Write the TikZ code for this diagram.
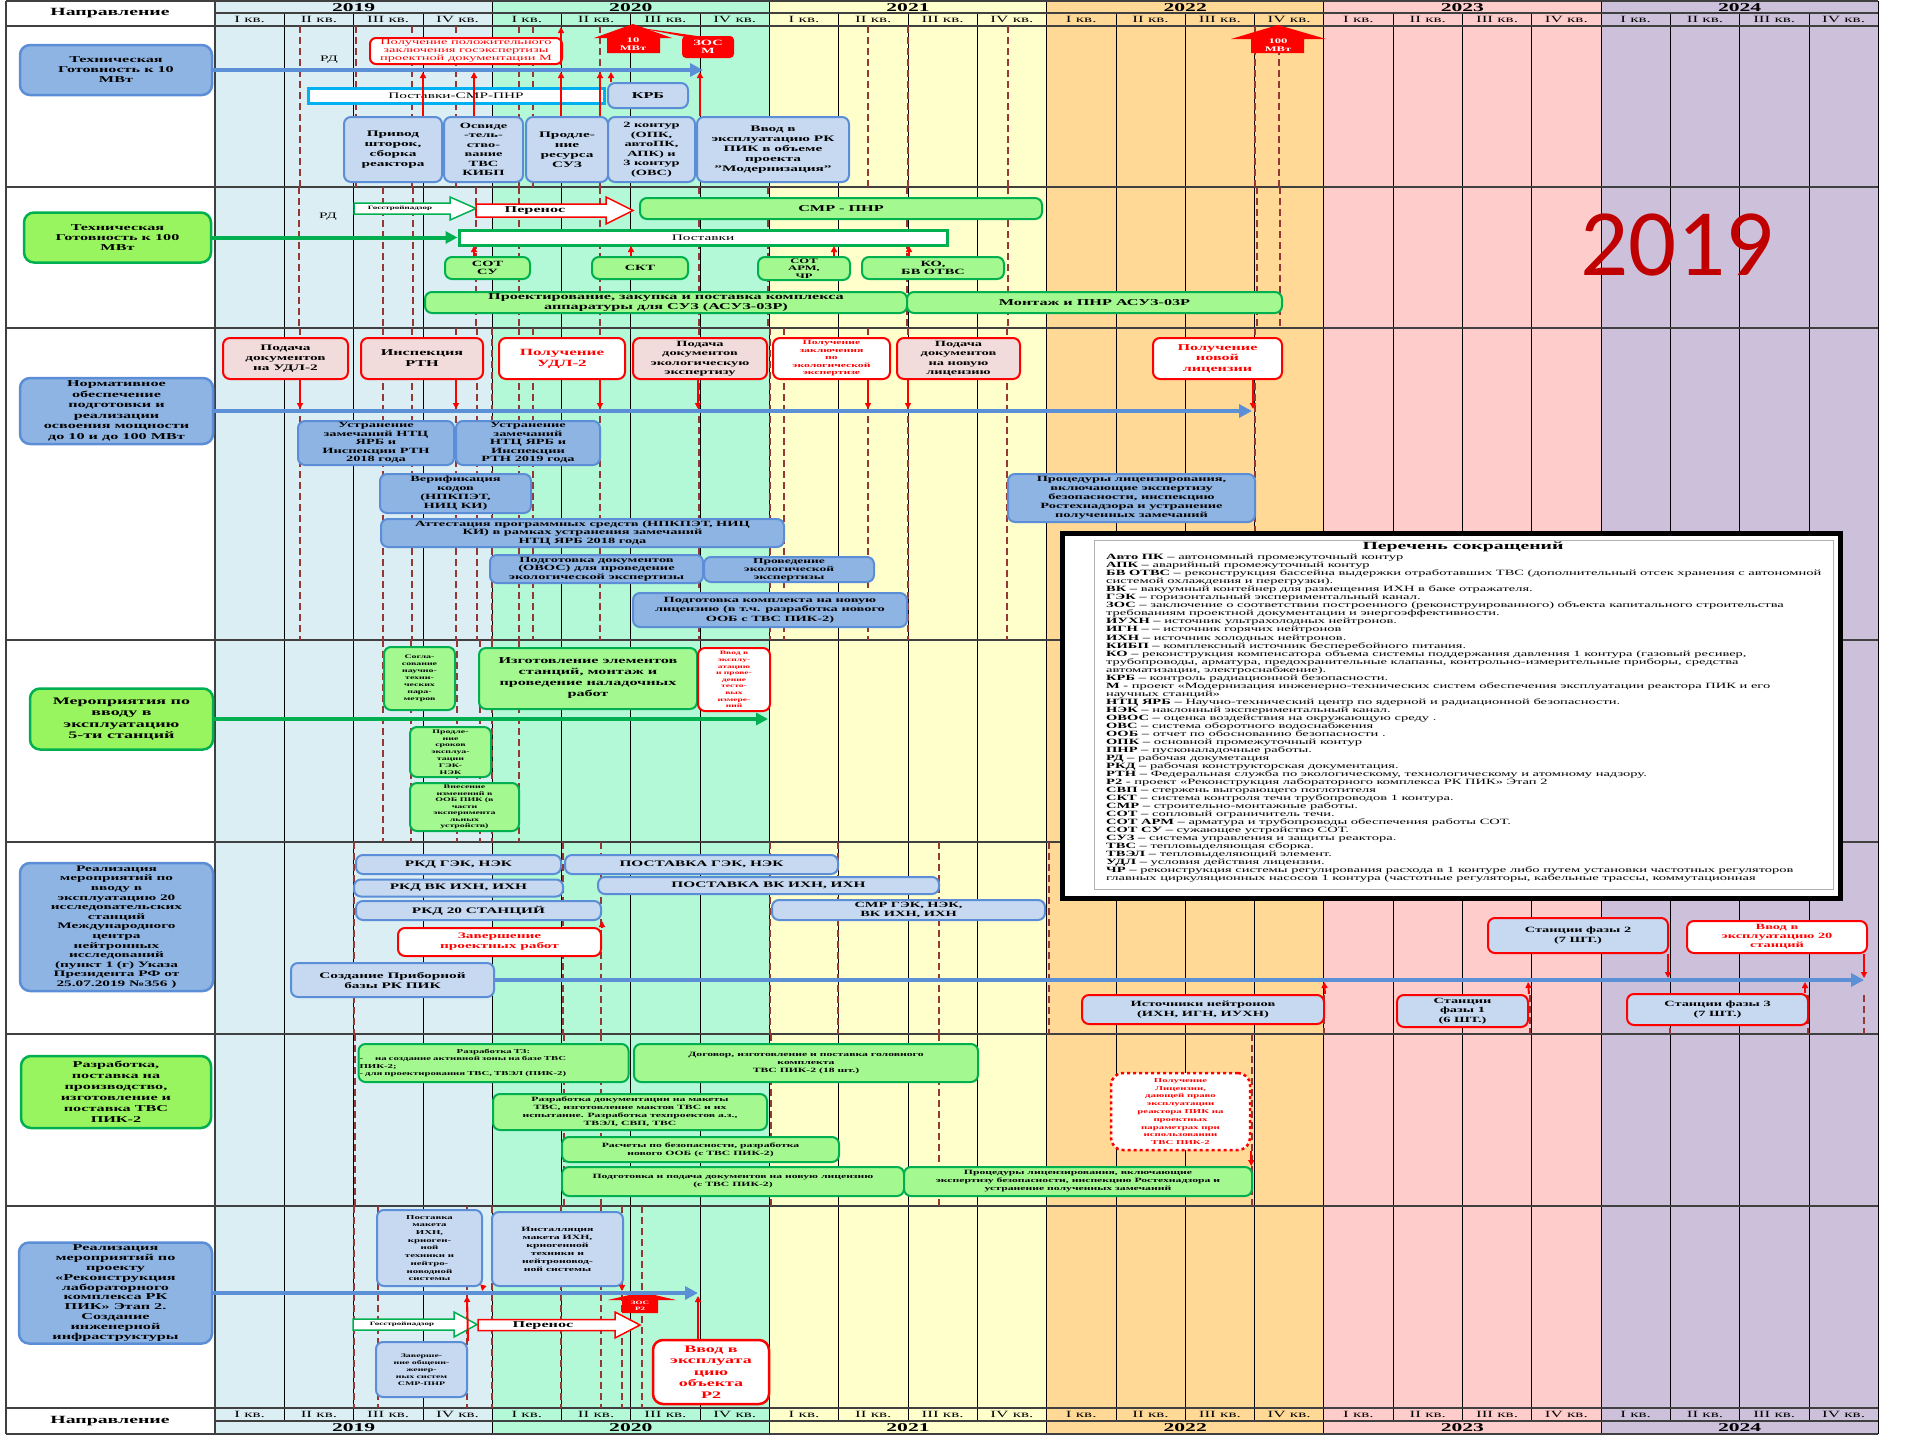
\documentclass[tikz,border=0pt]{standalone}
\usepackage{fontspec}
\setmainfont{Liberation Serif}[FakeStretch=1.8]
\newfontfamily\bigyrfont{Carlito}
\usetikzlibrary{arrows.meta}

\definecolor{yrA}{HTML}{DBEEF4}
\definecolor{yrB}{HTML}{B3F8D7}
\definecolor{yrC}{HTML}{FFFFCC}
\definecolor{yrD}{HTML}{FFD995}
\definecolor{yrE}{HTML}{FFCCCC}
\definecolor{yrF}{HTML}{CCC0DA}
\definecolor{dashred}{HTML}{953735}
\definecolor{lblblue}{HTML}{8EB4E3}
\definecolor{lblbord}{HTML}{5B8ED6}
\definecolor{boxblue}{HTML}{C6D9F1}
\definecolor{arrblue}{HTML}{5B8FD6}
\definecolor{lblgreen}{HTML}{99F55F}
\definecolor{grnbord}{HTML}{00B050}
\definecolor{boxgreen}{HTML}{A3F98F}
\definecolor{pinkbox}{HTML}{F2DCDB}
\definecolor{cyanb}{HTML}{00B0F0}
\definecolor{bigred}{HTML}{C00000}

\newcommand\fsb[2]{\bfseries\fontsize{#1}{#2}\selectfont}
\newcommand\fsr[2]{\fontsize{#1}{#2}\selectfont}

\tikzset{
	lblB/.style={draw=lblbord, line width=2.5, fill=lblblue, rounded corners=10, align=center, inner sep=1, font=\fsb{9}{10}},
	lblG/.style={lblB, draw=grnbord, fill=lblgreen},
	boxB/.style={draw=lblbord, line width=2, fill=boxblue, rounded corners=7, align=center, inner sep=1, font=\fsb{8.5}{10}},
	boxM/.style={boxB, fill=lblblue},
	boxG/.style={boxB, draw=grnbord, fill=boxgreen},
	boxP/.style={boxB, draw=red, fill=pinkbox},
	boxR/.style={boxB, draw=red, fill=white, text=red},
	boxBR/.style={boxB, draw=red},
	zosbox/.style={fill=red, rounded corners=4, align=center, inner sep=0, text=white, font=\fsb{8}{8.5}},
	wtxt/.style={text=white, align=center, inner sep=0, font=\fsb{7}{7.5}},
	redar/.style={red, line width=2, -{Triangle[length=6pt,width=6pt]}},
	barB/.style={draw=arrblue, line width=4, -{Triangle[length=13pt,width=13pt]}},
	barG/.style={draw=grnbord, line width=4, -{Triangle[length=12pt,width=12pt]}},
	dashln/.style={dashred, line width=2, dash pattern=on 7pt off 4pt},
	qline/.style={black, line width=0.8},
	rowln/.style={black!75, line width=1.5},
	qtxt/.style={inner sep=0, font=\fsr{9.5}{9.5}},
	yrtxt/.style={inner sep=0, font=\fsb{12}{12}},
	garr/.style={draw=grnbord, line width=1.5, fill=white},
	rarr/.style={draw=red, line width=1.5, fill=white},
}

\begin{document}
\begin{tikzpicture}[x=1pt, y=-1pt]
	\useasboundingbox (0,0) rectangle (1920,1440);

	% year columns
	\foreach \c [count=\j from 0] in {yrA,yrB,yrC,yrD,yrE,yrF}
		\fill[\c] ({215+277.2*\j},1) rectangle ({492.2+277.2*\j},1434);

	% grid
	\foreach \i in {0,...,24}
		\draw[qline] ({215+69.3*\i},13) -- ({215+69.3*\i},1421);
	\foreach \i in {0,...,6}
		\draw[qline] ({215+277.2*\i},1) -- ({215+277.2*\i},1434);
	\foreach \y in {1,26,187,328,640,842,1034,1206,1408,1434}
		\draw[rowln] (6,\y) -- (1878,\y);
	\draw[rowln] (215,13) -- (1878,13);
	\draw[rowln] (215,1421) -- (1878,1421);
	\draw[rowln] (6,1) -- (6,1434);
	\draw[rowln] (215,1) -- (215,1434);

	% headers
	\node[font=\fsb{11}{11}] (napr-t) at (110,13.5) {Направление};
	\node[font=\fsb{11}{11}] (napr-b) at (110,1421) {Направление};
	\foreach \yr [count=\j from 0] in {2019,...,2024} {
		\node[yrtxt] (yt-\yr) at ({353.6+277.2*\j},7.5) {\yr};
		\node[yrtxt] (yb-\yr) at ({353.6+277.2*\j},1428) {\yr};
	}
	\foreach \j in {0,...,5}
		\foreach \q [count=\k from 0] in {I,II,III,IV} {
			\node[qtxt] (qt-\j-\k) at ({249.65+277.2*\j+69.3*\k},19.5) {\q\ кв.};
			\node[qtxt] (qb-\j-\k) at ({249.65+277.2*\j+69.3*\k},1414.5) {\q\ кв.};
		}

	% dashed milestones
	\foreach \x in {300,356,412,456,519,533,600,868,908,1008,1255,1279}
		\draw[dashln] (\x,26) -- (\x,187);
	\foreach \x in {299,383,413,476,519,600,699,768,907,1008,1257,1280}
		\draw[dashln] (\x,187) -- (\x,328);
	\foreach \x in {300,383,412,456,477,492,519,533,600,699,770,784,868,908,1007,1255}
		\draw[dashln] (\x,328) -- (\x,640);
	\foreach \x in {383,411,457,480,492,519}
		\draw[dashln] (\x,640) -- (\x,842);
	\foreach \x in {354,563,601,770,838,939,1049}
		\draw[dashln] (\x,842) -- (\x,1034);
	\foreach \x in {1324,1530,1670,1808,1864}
		\draw[dashln] (\x,995) -- (\x,1034);
	\foreach \x in {355,564,601,771,939,1252}
		\draw[dashln] (\x,1034) -- (\x,1206);
	\foreach \x in {354,378,467,492,561,601,622,642}
		\draw[dashln] (\x,1206) -- (\x,1408);

	\node[text=bigred, font=\bigyrfont\fontsize{95}{95}\selectfont] (bigyr) at (1677,245) {2019};

	% row 1: 10 MW
	\node[lblB, minimum width=192, minimum height=50] (lbl10) at (116,70) {Техническая\\Готовность к 10\\МВт};
	\node[font=\fsr{8.5}{8.5}] (rd1) at (329,60) {РД};
	\node[boxR, font=\fsr{8}{8}, minimum width=192, minimum height=26, rounded corners=6] (gosexp) at (466,51) {Получение положительного\\заключения госэкспертизы\\проектной документации М};
	\node[draw=cyanb, line width=3, fill=white, minimum width=296, minimum height=15, inner sep=0, font=\fsr{8.5}{8.5}] (postsmr) at (456,95.5) {Поставки-СМР-ПНР};
	\node[boxB, font=\fsb{9}{10}, minimum width=80, minimum height=25] (krb) at (648,95.5) {КРБ};
	\node[boxB, minimum width=98, minimum height=65] (privod) at (393,149.5) {Привод\\шторок,\\сборка\\реактора};
	\node[boxB, font=\fsb{8}{9.5}, minimum width=79, minimum height=65] (osvid) at (483.5,149.5) {Освиде\\-тель-\\ство-\\вание\\ТВС\\КИБП};
	\node[boxB, minimum width=82, minimum height=65] (prodl) at (567,149.5) {Продле-\\ние\\ресурса\\СУЗ};
	\node[boxB, font=\fsb{8}{9.5}, minimum width=87, minimum height=65] (kontur) at (651.5,149.5) {2 контур\\(ОПК,\\автоПК,\\АПК) и\\3 контур\\(ОВС)};
	\node[boxB, minimum width=152, minimum height=65] (vvodM) at (773,149.5) {Ввод в\\эксплуатацию РК\\ПИК в объеме\\проекта\\"Модернизация"};
	\fill[red] (594,38) -- (633,24) -- (672,38) -- (660,38) -- (660,53) -- (607,53) -- (607,38) -- cycle;
	\node[wtxt] (mw10) at (633,44) {10\\МВт};
	\fill[red] (634,27) -- (686,37) -- (704,37) -- cycle;
	\node[zosbox, minimum width=52, minimum height=22] (zosM) at (708,47) {ЗОС\\М};
	\fill[red] (1231,39) -- (1278,25) -- (1326,39) -- (1304,39) -- (1304,53) -- (1251,53) -- (1251,39) -- cycle;
	\node[wtxt] (mw100) at (1278,45) {100\\МВт};

	\coordinate (e1) at (703,70);
	\draw[barB] (lbl10.east) -- (e1);
	\coordinate (r1a) at (423,72);
	\coordinate (r1b) at (474,72);
	\coordinate (r1c) at (561,72);
	\coordinate (r1d) at (600,72);
	\coordinate (r1e) at (611,72);
	\coordinate (r1f) at (700,72);
	\coordinate (r1g) at (561,27);
	\draw[redar] (privod.north -| r1a) -- (r1a);
	\draw[redar] (osvid.north -| r1b) -- (r1b);
	\draw[redar] (prodl.north -| r1c) -- (r1c);
	\draw[redar] (kontur.north -| r1d) -- (r1d);
	\draw[redar] (krb.north -| r1e) -- (r1e);
	\draw[redar] (vvodM.north -| r1f) -- (r1f);
	\draw[redar] (gosexp.south east -| r1g) -- (r1g);

	% row 2: 100 MW
	\node[lblG, minimum width=187, minimum height=50] (lbl100) at (117.5,237.5) {Техническая\\Готовность к 100\\МВт};
	\node[font=\fsr{8.5}{8.5}] (rd2) at (328,217) {РД};
	\draw[garr] (354,203) -- (450,203) -- (450,197) -- (476,208.5) -- (450,220) -- (450,214) -- (354,214) -- cycle;
	\node[inner sep=0, font=\fsb{5}{5}] (gsn1) at (400,208.5) {Госстройнадзор};
	\draw[rarr] (476,204) -- (606,204) -- (606,197) -- (633,210.5) -- (606,224) -- (606,217) -- (476,217) -- cycle;
	\node[inner sep=0, font=\fsb{9}{9}] (per1) at (535,210.5) {Перенос};
	\node[boxG, font=\fsb{9}{10}, minimum width=402, minimum height=21] (smrpnr) at (841,208.5) {СМР - ПНР};
	\node[draw=grnbord, line width=3, fill=white, minimum width=488, minimum height=15, inner sep=0, font=\fsr{8.5}{8.5}] (postav) at (703,237.5) {Поставки};
	\node[boxG, font=\fsb{8}{8.5}, minimum width=85, minimum height=22] (sotsu) at (487.5,268) {СОТ\\СУ};
	\node[boxG, font=\fsb{8}{8.5}, minimum width=96, minimum height=22] (skt) at (640,268) {СКТ};
	\node[boxG, font=\fsb{7}{7.3}, minimum width=92, minimum height=23] (sotarm) at (804,268.5) {СОТ\\АРМ,\\ЧР};
	\node[boxG, font=\fsb{8}{8.5}, minimum width=142, minimum height=22] (kobv) at (933,268) {КО,\\БВ ОТВС};
	\node[boxG, font=\fsb{9}{9.5}, minimum width=482, minimum height=21] (proekt) at (666,302.5) {Проектирование, закупка и поставка комплекса\\аппаратуры для СУЗ (АСУЗ-03Р)};
	\node[boxG, font=\fsb{9}{9.5}, minimum width=375, minimum height=21] (montazh) at (1094.5,302.5) {Монтаж и ПНР  АСУЗ-03Р};
	\draw[barG] (lbl100.east) -- (postav.west);
	\coordinate (r2a) at (474,246);
	\coordinate (r2b) at (631,246);
	\coordinate (r2c) at (834,246);
	\coordinate (r2d) at (909,246);
	\draw[redar] (sotsu.north -| r2a) -- (r2a);
	\draw[redar] (skt.north -| r2b) -- (r2b);
	\draw[redar] (sotarm.north -| r2c) -- (r2c);
	\draw[redar] (kobv.north -| r2d) -- (r2d);

	% row 3: licensing
	\node[lblB, font=\fsb{9}{10.5}, minimum width=193, minimum height=66] (lblnorm) at (116.5,411) {Нормативное\\обеспечение\\подготовки и\\реализации\\освоения мощности\\до 10 и до 100 МВт};
	\node[boxP, minimum width=125, minimum height=41] (pudl) at (285.5,358.5) {Подача\\документов\\на УДЛ-2};
	\node[boxP, font=\fsb{9}{11}, minimum width=122, minimum height=41] (insp) at (422,358.5) {Инспекция\\РТН};
	\node[boxR, font=\fsb{9.5}{11}, minimum width=126, minimum height=41] (pudl2) at (562,358.5) {Получение\\УДЛ-2};
	\node[boxP, font=\fsb{8}{9.5}, minimum width=134, minimum height=41] (peco) at (700,358.5) {Подача\\документов\\экологическую\\экспертизу};
	\node[boxR, font=\fsb{6.5}{7.5}, minimum width=117, minimum height=41] (zeco) at (831.5,358.5) {Получение\\заключения\\по\\экологической\\экспертизе};
	\node[boxP, font=\fsb{8}{9.5}, minimum width=123, minimum height=41] (plic) at (958.5,358.5) {Подача\\документов\\на новую\\лицензию};
	\node[boxR, font=\fsb{9}{10.5}, minimum width=129, minimum height=41] (newlic) at (1217.5,358.5) {Получение\\новой\\лицензии};
	\node[boxM, font=\fsb{8}{8.5}, minimum width=156, minimum height=44] (ust18) at (376,443) {Устранение\\замечаний  НТЦ\\ЯРБ и\\Инспекции  РТН\\2018 года};
	\node[boxM, font=\fsb{8}{8.5}, minimum width=144, minimum height=44] (ust19) at (528,443) {Устранение\\замечаний\\НТЦ ЯРБ и\\Инспекции\\РТН 2019 года};
	\node[boxM, font=\fsb{8}{9}, minimum width=151, minimum height=39] (verif) at (455.5,493.5) {Верификация\\кодов\\(НПКПЭТ,\\НИЦ КИ)};
	\node[boxM, font=\fsb{8}{8.5}, minimum width=403, minimum height=28] (attest) at (582.5,533) {Аттестация программных  средств (НПКПЭТ, НИЦ\\КИ) в рамках устранения замечаний\\НТЦ ЯРБ 2018 года};
	\node[boxM, font=\fsb{8}{8.5}, minimum width=213, minimum height=28] (ovos) at (596.5,569) {Подготовка документов\\(ОВОС) для проведение\\экологической экспертизы};
	\node[boxM, font=\fsb{7.5}{8}, minimum width=170, minimum height=25] (proveco) at (789,569.5) {Проведение\\экологической\\экспертизы};
	\node[boxM, font=\fsb{8}{9.5}, minimum width=274, minimum height=34] (komplekt) at (770,610) {Подготовка комплекта на новую\\лицензию (в т.ч. разработка нового\\ООБ с ТВС ПИК-2)};
	\node[boxM, font=\fsb{8}{9}, minimum width=247, minimum height=48] (proclic) at (1131.5,498) {Процедуры лицензирования,\\включающие  экспертизу\\безопасности, инспекцию\\Ростехнадзора и устранение\\полученных  замечаний};
	\coordinate (e3) at (1252,411);
	\draw[barB] (lblnorm.east) -- (e3);
	\coordinate (r3a) at (300,409);
	\coordinate (r3b) at (456,409);
	\coordinate (r3c) at (600,409);
	\coordinate (r3d) at (698,409);
	\coordinate (r3e) at (868,409);
	\coordinate (r3f) at (908,409);
	\coordinate (r3g) at (1253,409);
	\draw[redar] (pudl.south -| r3a) -- (r3a);
	\draw[redar] (insp.south -| r3b) -- (r3b);
	\draw[redar] (pudl2.south -| r3c) -- (r3c);
	\draw[redar] (peco.south -| r3d) -- (r3d);
	\draw[redar] (zeco.south -| r3e) -- (r3e);
	\draw[redar] (plic.south -| r3f) -- (r3f);
	\draw[redar] (newlic.south -| r3g) -- (r3g);

	% row 4: 5 stations
	\node[lblG, font=\fsb{10}{11.5}, minimum width=183, minimum height=61] (lbl5) at (121.5,719) {Мероприятия по\\вводу в\\эксплуатацию\\5-ти станций};
	\node[boxG, font=\fsb{5.5}{7}, minimum width=71, minimum height=63] (sogl) at (419.5,678.5) {Согла-\\сование\\научно-\\техни-\\ческих\\пара-\\метров};
	\node[boxG, font=\fsb{9}{11}, minimum width=218, minimum height=61] (izgot) at (588,678.5) {Изготовление элементов\\станций, монтаж и\\проведение наладочных\\работ};
	\node[boxR, font=\fsb{5.3}{6.6}, minimum width=72, minimum height=63] (vvodtest) at (734,679.5) {Ввод в\\эксплу-\\атацию\\и прове-\\дение\\тесто-\\вых\\измере-\\ний};
	\node[boxG, font=\fsb{5.5}{6.8}, minimum width=81, minimum height=50] (prsrok) at (450.5,752) {Продле-\\ние\\сроков\\эксплуа-\\тации\\ГЭК-\\НЭК};
	\node[boxG, font=\fsb{5.5}{6.5}, minimum width=109, minimum height=48] (vnes) at (464.5,807) {Внесение\\изменений  в\\ООБ ПИК  (в\\части\\эксперимента\\льных\\устройств)};
	\coordinate (e4) at (768,719);
	\draw[barG] (lbl5.east) -- (e4);

	% row 5: 20 stations
	\node[lblB, font=\fsb{8.5}{9.6}, minimum width=193, minimum height=128] (lbl20) at (116.5,927) {Реализация\\мероприятий по\\вводу в\\эксплуатацию 20\\исследовательских\\станций\\Международного\\центра\\нейтронных\\исследований\\(пункт 1 (г) Указа\\Президента РФ от\\25.07.2019 №356 )};
	\node[boxB, minimum width=205, minimum height=19] (rkdgek) at (458.5,864.5) {РКД ГЭК, НЭК};
	\node[boxB, minimum width=273, minimum height=19] (postgek) at (701.5,864.5) {ПОСТАВКА ГЭК, НЭК};
	\node[boxB, minimum width=209, minimum height=17] (rkdvk) at (458.5,888) {РКД ВК ИХН,  ИХН};
	\node[boxB, minimum width=341, minimum height=17] (postvk) at (768.5,885.5) {ПОСТАВКА ВК ИХН, ИХН};
	\node[boxB, minimum width=245, minimum height=19] (rkd20) at (478.5,910.5) {РКД 20 СТАНЦИЙ};
	\node[boxB, font=\fsb{8}{9}, minimum width=273, minimum height=20] (smrgek) at (908.5,910) {СМР ГЭК, НЭК,\\ВК ИХН, ИХН};
	\node[boxR, minimum width=203, minimum height=28] (zaversh) at (499.5,942) {Завершение\\проектных работ};
	\node[boxB, minimum width=203, minimum height=34] (sozd) at (392.5,980) {Создание Приборной\\базы РК ПИК};
	\node[boxBR, font=\fsb{8}{9.5}, minimum width=242, minimum height=29] (istoch) at (1203,1009.5) {Источники нейтронов\\(ИХН, ИГН, ИУХН)};
	\node[boxBR, font=\fsb{8}{9.5}, minimum width=131, minimum height=32] (faza1) at (1462.5,1011) {Станции\\фазы 1\\(6 ШТ.)};
	\node[boxBR, font=\fsb{8}{10}, minimum width=180, minimum height=35] (faza2) at (1578,935.5) {Станции фазы 2\\(7 ШТ.)};
	\node[boxR, font=\fsb{8}{9}, minimum width=180, minimum height=32] (vvod20) at (1777,937) {Ввод в\\эксплуатацию 20\\станций};
	\node[boxBR, font=\fsb{8}{10}, minimum width=181, minimum height=31] (faza3) at (1717.5,1009.5) {Станции фазы 3\\(7 ШТ.)};
	\coordinate (e5) at (1864,980);
	\draw[barB] (sozd.east) -- (e5);
	\draw[redar] (zaversh.north east) -- (rkd20.south east);
	\coordinate (r5a) at (1324,982);
	\coordinate (r5b) at (1528,982);
	\coordinate (r5c) at (1668,978);
	\coordinate (r5d) at (1805,982);
	\coordinate (r5e) at (1864,978);
	\draw[redar] (istoch.north east) -- (r5a);
	\draw[redar] (faza1.north east) -- (r5b);
	\draw[redar] (faza2.south -| r5c) -- (r5c);
	\draw[redar] (faza3.north -| r5d) -- (r5d);
	\draw[redar] (vvod20.south -| r5e) -- (r5e);

	% row 6: fuel assemblies
	\node[lblG, font=\fsb{9}{11}, minimum width=190, minimum height=72] (lbltvs) at (116,1092) {Разработка,\\поставка на\\производство,\\изготовление и\\поставка ТВС\\ПИК-2};
	\node[boxG, font=\fsb{6}{7.5}, text width=268, align=left, minimum height=38] (tz) at (493.5,1063) {\makebox[268pt][c]{Разработка ТЗ:}\\-\hspace{12pt}на создание активной зоны на базе ТВС\\ПИК-2;\\- для проектирования ТВС, ТВЭЛ (ПИК-2)};
	\node[boxG, font=\fsb{6.5}{8}, minimum width=344, minimum height=38] (dogovor) at (806,1063) {Договор, изготовление и поставка головного\\комплекта\\ТВС ПИК-2 (18 шт.)};
	\node[boxG, font=\fsb{6.5}{8}, minimum width=274, minimum height=36] (makety) at (630,1112) {Разработка документации на макеты\\ТВС, изготовление мактов ТВС и их\\испытание. Разработка техпроектов а.з.,\\ТВЭЛ, СВП, ТВС};
	\node[boxG, font=\fsb{6.5}{8}, minimum width=277, minimum height=25] (raschet) at (700.5,1149.5) {Расчеты по безопасности, разработка\\нового ООБ (с ТВС ПИК-2)};
	\node[boxG, font=\fsb{6.5}{8}, minimum width=342, minimum height=29] (podacha) at (733,1181.5) {Подготовка и подача документов на новую лицензию\\(с ТВС ПИК-2)};
	\node[boxG, font=\fsb{6.5}{8}, minimum width=348, minimum height=29] (proclic2) at (1078,1181.5) {Процедуры лицензирования, включающие\\экспертизу безопасности, инспекцию Ростехнадзора и\\устранение полученных замечаний};
	\node[boxR, dashed, line width=2.5, font=\fsb{6}{7.8}, minimum width=139, minimum height=77, rounded corners=12] (lic2) at (1180.5,1111.5) {Получение\\Лицензии,\\дающей право\\эксплуатации\\реактора ПИК на\\проектных\\параметрах при\\использовании\\ТВС ПИК-2};
	\draw[redar] (lic2.south east) -- (lic2.south east |- proclic2.north);

	% row 7: R2 project
	\node[lblB, font=\fsb{9}{9.8}, minimum width=193, minimum height=101] (lblr2) at (115.5,1293) {Реализация\\мероприятий по\\проекту\\«Реконструкция\\лабораторного\\комплекса РК\\ПИК» Этап 2.\\Создание\\инженерной\\инфраструктуры};
	\node[boxB, font=\fsb{6}{7.7}, minimum width=105, minimum height=76] (postmak) at (429.5,1248) {Поставка\\макета\\ИХН,\\криоген-\\ной\\техники и\\нейтро-\\новодной\\системы};
	\node[boxB, font=\fsb{6.5}{8}, minimum width=131, minimum height=74] (instal) at (557.5,1249) {Инсталляция\\макета ИХН,\\криогенной\\техники и\\нейтроновод-\\ной системы};
	\node[boxB, font=\fsb{5.5}{7}, minimum width=91, minimum height=55] (zavobs) at (421.5,1369.5) {Заверше-\\ние общеин-\\женер-\\ных систем\\СМР-ПНР};
	\draw[garr] (353,1319) -- (454,1319) -- (454,1312) -- (477,1324.5) -- (454,1337) -- (454,1330) -- (353,1330) -- cycle;
	\node[inner sep=0, font=\fsb{5}{5}] (gsn2) at (402,1324.5) {Госстройнадзор};
	\draw[rarr] (478,1319.5) -- (615,1319.5) -- (615,1312) -- (640,1325) -- (615,1338) -- (615,1330.5) -- (478,1330.5) -- cycle;
	\node[inner sep=0, font=\fsb{9}{9}] (per2) at (543,1325) {Перенос};
	\fill[red] (608,1300) -- (642,1292) -- (676,1300) -- (658,1300) -- (658,1313) -- (622,1313) -- (622,1300) -- cycle;
	\node[wtxt, font=\fsb{5}{5.5}] (zosr2) at (640,1306) {ЗОС\\Р2};
	\node[boxR, line width=2.5, font=\fsb{10}{11.5}, minimum width=116, minimum height=64, rounded corners=10] (vvodr2) at (711,1372) {Ввод в\\эксплуата\\цию\\объекта\\Р2};
	\coordinate (e7) at (698,1293);
	\draw[barB] (lblr2.east) -- (e7);
	\coordinate (r7a) at (482,1291);
	\coordinate (r7b) at (467,1296);
	\coordinate (r7c) at (622,1291);
	\coordinate (r7d) at (698,1296);
	\draw[redar] (postmak.south east) -- (r7a);
	\draw[redar] (zavobs.north east) -- (r7b);
	\draw[redar] (instal.south -| r7c) -- (r7c);
	\draw[redar] (vvodr2.north -| r7d) -- (r7d);

	% legend
	\node[draw, line width=5, fill=white, minimum width=778, minimum height=365, inner sep=0] (legbox) at (1451,715.5) {};
	\draw[gray!60, line width=1] (1094,540) rectangle (1833,889);
	\node[font=\fsb{11}{11}] (legttl) at (1463,547) {Перечень сокращений};
	\node[anchor=north west, align=left, inner sep=0, font=\fsr{8.05}{8.03}] (legtxt) at (1106,554) {%
\textbf{Авто ПК –}  автономный промежуточный контур\\
\textbf{АПК –}  аварийный  промежуточный контур\\
\textbf{БВ ОТВС –}  реконструкция  бассейна выдержки отработавших ТВС  (дополнительный отсек хранения  с автономной\\
системой охлаждения  и перегрузки).\\
\textbf{ВК –}  вакуумный  контейнер для размещения ИХН в баке отражателя.\\
\textbf{ГЭК –}  горизонтальный  экспериментальный  канал.\\
\textbf{ЗОС –}  заключение о соответствии построенного (реконструированного) объекта капитального  строительства\\
требованиям проектной документации  и энергоэффективности.\\
\textbf{ИУХН –}  источник ультрахолодных нейтронов.\\
\textbf{ИГН  – –}  источник горячих нейтронов\\
\textbf{ИХН –}  источник холодных нейтронов.\\
\textbf{КИБП –}  комплексный источник бесперебойного питания.\\
\textbf{КО –} реконструкция  компенсатора объема системы поддержания давления  1 контура (газовый ресивер,\\
трубопроводы, арматура, предохранительные  клапаны,  контрольно-измерительные приборы, средства\\
автоматизации,  электроснабжение).\\
\textbf{КРБ –}  контроль радиационной  безопасности.\\
\textbf{М -} проект «Модернизация  инженерно-технических  систем обеспечения эксплуатации  реактора ПИК и его\\
научных  станций»\\
\textbf{НТЦ ЯРБ –}  Научно-технический  центр по ядерной и радиационной  безопасности.\\
\textbf{НЭК –}  наклонный  экспериментальный  канал.\\
\textbf{ОВОС –}  оценка воздействия на окружающую среду .\\
\textbf{ОВС –} система оборотного водоснабжения\\
\textbf{ООБ –} отчет по обоснованию безопасности .\\
\textbf{ОПК –}  основной промежуточный контур\\
\textbf{ПНР –}  пусконаладочные работы.\\
\textbf{РД –} рабочая докуметация\\
\textbf{РКД –} рабочая конструкторская документация.\\
\textbf{РТН –}  Федеральная служба по экологическому, технологическому и атомному надзору.\\
\textbf{Р2 -}  проект «Реконструкция  лабораторного комплекса РК ПИК» Этап 2\\
\textbf{СВП –} стержень выгорающего поглотителя\\
\textbf{СКТ –}  система контроля течи трубопроводов 1 контура.\\
\textbf{СМР –}  строительно-монтажные работы.\\
\textbf{СОТ –}  сопловый ограничитель течи.\\
\textbf{СОТ АРМ –}  арматура и трубопроводы обеспечения работы СОТ.\\
\textbf{СОТ СУ –}  сужающее устройство СОТ.\\
\textbf{СУЗ –}  система управления  и защиты реактора.\\
\textbf{ТВС –}  тепловыделяющая сборка.\\
\textbf{ТВЭЛ –} тепловыделяющий элемент.\\
\textbf{УДЛ –}  условия действия лицензии.\\
\textbf{ЧР –}  реконструкция  системы регулирования  расхода в 1 контуре  либо путем  установки  частотных регуляторов\\
главных  циркуляционных  насосов 1 контура (частотные регуляторы, кабельные трассы, коммутационная};
\end{tikzpicture}
\end{document}
